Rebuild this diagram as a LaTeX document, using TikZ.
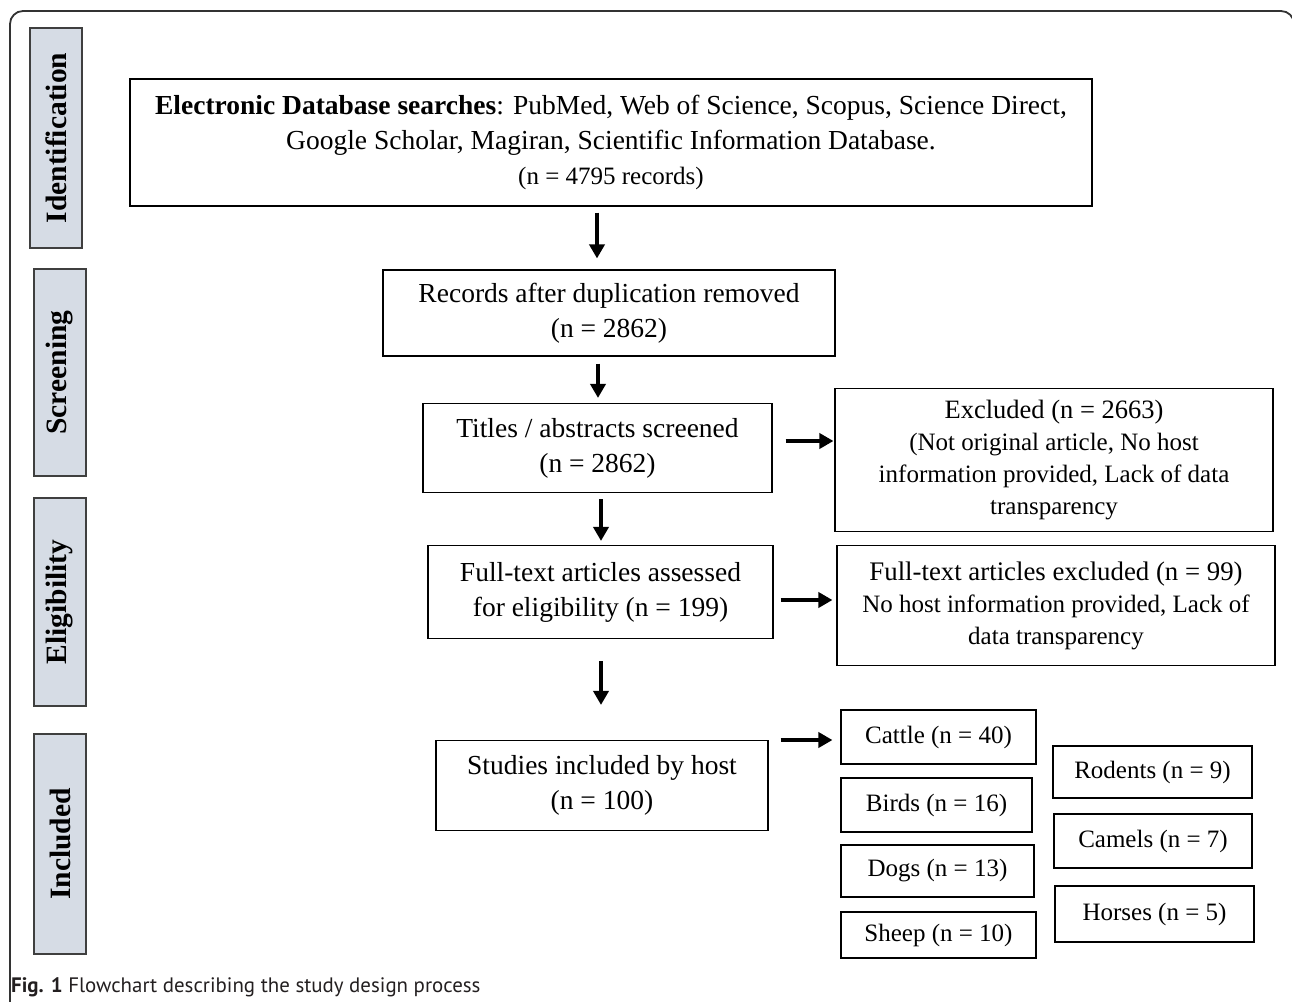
\documentclass[tikz,border=0pt]{standalone}
\usepackage{fontspec}
\setmainfont{Liberation Serif}
\newfontfamily\capfont{PT Sans}
\usetikzlibrary{arrows.meta}
\definecolor{phasefill}{HTML}{D6DCE5}
\definecolor{phaseedge}{HTML}{3F3F3F}
\definecolor{framecol}{HTML}{333333}
\definecolor{captext}{HTML}{231F20}
\begin{document}
\begin{tikzpicture}[x=1pt,y=-1pt,
  box/.style={draw=black, line width=1.1pt, inner sep=0pt, align=center,
    font=\fontsize{27.5}{35}\selectfont},
  detailbox/.style={box, font=\fontsize{25}{32}\selectfont},
  hostbox/.style={box, font=\fontsize{25}{30}\selectfont},
  phase/.style={draw=phaseedge, fill=phasefill, line width=1.3pt, rotate=90,
    inner sep=0pt, font=\bfseries\fontsize{29.5}{35}\selectfont},
  arr/.style={line width=3.6pt, -{Triangle[length=14pt,width=15pt]}}]
\useasboundingbox (0,0) rectangle (1292,1001);
% outer frame
\draw[framecol, line width=1.8pt, rounded corners=13pt] (10,1010) -- (10,11) -- (1294,11) -- (1294,1010);
% phase labels
\node[phase, minimum width=220pt, minimum height=52pt] (pid) at (56,138) {Identification};
\node[phase, minimum width=207pt, minimum height=52pt] (pscr) at (60,372.5) {Screening};
\node[phase, minimum width=208pt, minimum height=52pt] (peli) at (60,602) {Eligibility};
\node[phase, minimum width=220pt, minimum height=52pt] (pinc) at (60,844) {Included};
% main boxes
\node[box, minimum width=962pt, minimum height=127pt] (elec) at (611,142.5)
  {\textbf{Electronic Database searches}: PubMed, Web of Science, Scopus, Science Direct,\\
   Google Scholar, Magiran, Scientific Information Database.\\
   {\fontsize{25}{35}\selectfont (n = 4795 records)}};
\node[box, minimum width=452pt, minimum height=86pt] (rec) at (609,313)
  {Records after duplication removed\\(n = 2862)};
\node[box, minimum width=349pt, minimum height=89pt] (tit) at (597.5,448)
  {Titles / abstracts screened\\(n = 2862)};
\node[detailbox, minimum width=438pt, minimum height=143pt] (exa) at (1054,460)
  {{\fontsize{26.5}{32}\selectfont Excluded (n = 2663)}\\
   (Not original article, No host\\
   information provided, Lack of data\\
   transparency};
\node[box, minimum width=345pt, minimum height=93pt] (full) at (600.5,592)
  {Full-text articles assessed\\for eligibility (n = 199)};
\node[detailbox, minimum width=438pt, minimum height=120pt] (exb) at (1056,605.5)
  {{\fontsize{26.8}{32}\selectfont Full-text articles excluded (n = 99)}\\
   No host information provided, Lack of\\
   data transparency};
\node[box, minimum width=332pt, minimum height=90pt] (stud) at (602,785.5)
  {Studies included by host\\(n = 100)};
% host boxes
\node[hostbox, minimum width=195pt, minimum height=54pt] (cattle) at (938.5,737) {Cattle (n = 40)};
\node[hostbox, minimum width=191pt, minimum height=54pt] (birds) at (936.5,805) {Birds (n = 16)};
\node[hostbox, minimum width=193pt, minimum height=52pt] (dogs) at (937.5,871) {Dogs (n = 13)};
\node[hostbox, minimum width=195pt, minimum height=46pt] (sheep) at (938.5,935) {Sheep (n = 10)};
\node[hostbox, minimum width=199pt, minimum height=52pt] (rodents) at (1152.5,772) {Rodents (n = 9)};
\node[hostbox, minimum width=198pt, minimum height=54pt] (camels) at (1153,841) {Camels (n = 7)};
\node[hostbox, minimum width=199pt, minimum height=56pt] (horses) at (1154.5,914) {Horses (n = 5)};
% arrow guide coordinates
\coordinate (v1) at (597,0);
\coordinate (v2) at (598,0);
\coordinate (v4) at (601,0);
\coordinate (h3) at (0,441);
\coordinate (h5) at (0,600);
\coordinate (h7) at (0,740);
% arrows
\draw[arr, shorten <=6pt, shorten >=11pt] (elec.south -| v1) -- (rec.north -| v1);
\draw[arr, shorten <=7pt, shorten >=5pt] (rec.south -| v2) -- (tit.north -| v2);
\draw[arr, shorten <=13pt, shorten >=1pt] (tit.east |- h3) -- (exa.west |- h3);
\draw[arr, shorten <=6pt, shorten >=4pt] (tit.south -| v4) -- (full.north -| v4);
\draw[arr, shorten <=7pt, shorten >=4pt] (full.east |- h5) -- (exb.west |- h5);
\draw[arr, shorten <=22pt, shorten >=35pt] (full.south -| v4) -- (stud.north -| v4);
\draw[arr, shorten <=12pt, shorten >=8pt] (stud.east |- h7) -- (cattle.west |- h7);
% caption
\node[anchor=base west, inner sep=0pt, text=captext, font=\capfont\fontsize{20.9}{25}\selectfont] (cap) at (11,992)
  {\textbf{Fig. 1} Flowchart describing the study design process};
\end{tikzpicture}
\end{document}
